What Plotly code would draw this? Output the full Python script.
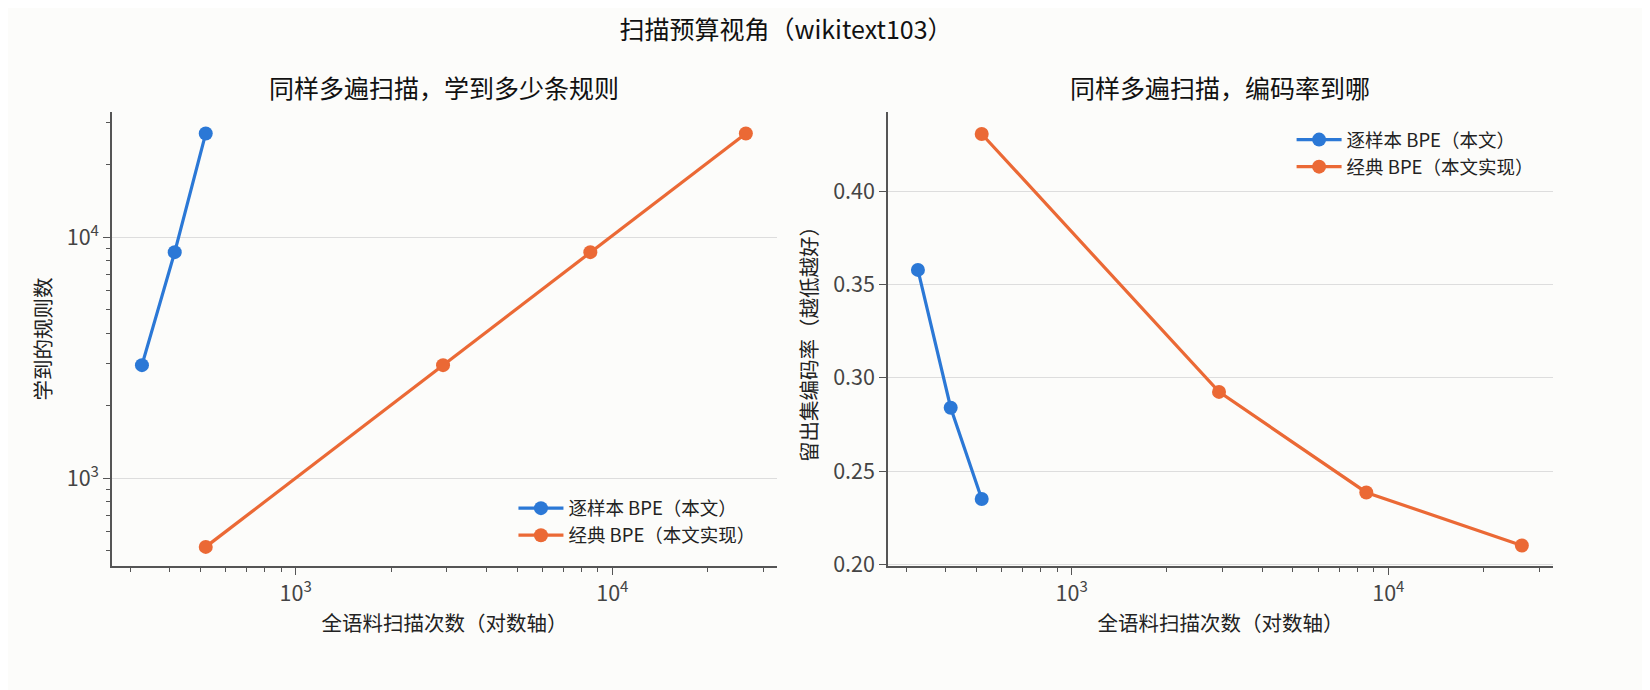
import plotly.graph_objects as go
from plotly.subplots import make_subplots

# values
blue_scans = [327, 415, 520]
blue_rules = [2944, 8670, 26980]
blue_rate = [0.358, 0.284, 0.235]

orange_scans = [520, 2920, 8520, 26400]
orange_rules = [518, 2944, 8670, 26980]
orange_rate = [0.431, 0.2925, 0.2385, 0.210]

blue_name = '逐样本 BPE（本文）'
orange_name = '经典 BPE（本文实现）'
blue = '#2b78d6'
orange = '#eb6935'

font_cjk = 'Noto Sans CJK SC'
axis_grey = '#555555'
bg = '#fcfcfa'
tick_size = 21.5
label_size = 20.5

fig = make_subplots(rows=1, cols=2, horizontal_spacing=0.077)

for col, (yb, yo) in enumerate([(blue_rules, orange_rules), (blue_rate, orange_rate)], start=1):
    leg = 'legend' if col == 1 else 'legend2'
    fig.add_trace(go.Scatter(x=blue_scans, y=yb, name=blue_name, mode='lines+markers',
                             line=dict(color=blue, width=3.2), marker=dict(size=14, color=blue),
                             legend=leg), row=1, col=col)
    fig.add_trace(go.Scatter(x=orange_scans, y=yo, name=orange_name, mode='lines+markers',
                             line=dict(color=orange, width=3.2), marker=dict(size=14, color=orange),
                             legend=leg), row=1, col=col)

minor_vals = [m * 10 ** e for e in range(2, 5) for m in range(2, 10)]

common_x = dict(type='log', range=[2.42, 4.52], showgrid=False, showline=True,
                linecolor=axis_grey, linewidth=1.5, ticks='outside', tickcolor=axis_grey,
                ticklen=7, tickvals=[1000, 10000], ticktext=['10<sup>3</sup>', '10<sup>4</sup>'],
                tickfont=dict(size=tick_size, color='#444444'),
                minor=dict(ticks='outside', ticklen=4, tickcolor=axis_grey, tickvals=minor_vals, showgrid=False),
                title=dict(text='全语料扫描次数（对数轴）', font=dict(size=label_size, color='#222222'), standoff=11),
                zeroline=False)

fig.update_xaxes(**common_x, row=1, col=1)
fig.update_xaxes(**common_x, row=1, col=2)

fig.update_yaxes(type='log', range=[2.635, 4.52], showgrid=True, gridcolor='#dddddd', gridwidth=1.2,
                 showline=True, linecolor=axis_grey, linewidth=1.5, ticks='outside', tickcolor=axis_grey,
                 ticklen=7, tickvals=[1000, 10000], ticktext=['10<sup>3</sup>', '10<sup>4</sup>'],
                 tickfont=dict(size=tick_size, color='#444444'),
                 minor=dict(ticks='outside', ticklen=4, tickcolor=axis_grey, tickvals=minor_vals, showgrid=False),
                 title=dict(text='学到的规则数', font=dict(size=label_size, color='#222222'), standoff=10),
                 zeroline=False, row=1, col=1)

fig.update_yaxes(range=[0.199, 0.4428], showgrid=True, gridcolor='#dddddd', gridwidth=1.2,
                 showline=True, linecolor=axis_grey, linewidth=1.5, ticks='outside', tickcolor=axis_grey,
                 ticklen=7, tickvals=[0.20, 0.25, 0.30, 0.35, 0.40], tickformat='.2f',
                 tickfont=dict(size=tick_size, color='#444444'),
                 title=dict(text='留出集编码率（越低越好）', font=dict(size=label_size, color='#222222'), standoff=10),
                 zeroline=False, row=1, col=2)

fig.update_layout(
    width=1650, height=690,
    paper_bgcolor=bg, plot_bgcolor=bg,
    font=dict(family=font_cjk, color='#222222'),
    margin=dict(l=104, r=105, t=104, b=132),
    title=dict(text='扫描预算视角（wikitext103）', x=0.4715, xanchor='center', y=0.968, yanchor='middle',
               font=dict(size=25, color='#111111')),
    showlegend=True,
    legend=dict(x=0.45, y=0.025, xanchor='right', yanchor='bottom', bgcolor='rgba(0,0,0,0)',
                font=dict(size=18.5, color='#222222'), itemwidth=45, tracegroupgap=2),
    legend2=dict(x=0.99, y=0.98, xanchor='right', yanchor='top', bgcolor='rgba(0,0,0,0)',
                 font=dict(size=18.5, color='#222222'), itemwidth=45, tracegroupgap=2),
    annotations=[
        dict(text='同样多遍扫描，学到多少条规则', x=436 / 1650, y=1 - 79 / 690, xref='paper', yref='paper',
             showarrow=False, font=dict(size=25, color='#111111'), xanchor='center', yanchor='middle'),
        dict(text='同样多遍扫描，编码率到哪', x=1212 / 1650, y=1 - 79 / 690, xref='paper', yref='paper',
             showarrow=False, font=dict(size=25, color='#111111'), xanchor='center', yanchor='middle'),
    ],
)

# annotations above use container coords; convert to paper coords
pw = 1650 - 104 - 105
ph = 690 - 104 - 132
for ann in fig.layout.annotations:
    px = ann.x * 1650
    py = (1 - ann.y) * 690
    ann.x = (px - 104) / pw
    ann.y = 1 - (py - 104) / ph

fig.write_html('out.html')
